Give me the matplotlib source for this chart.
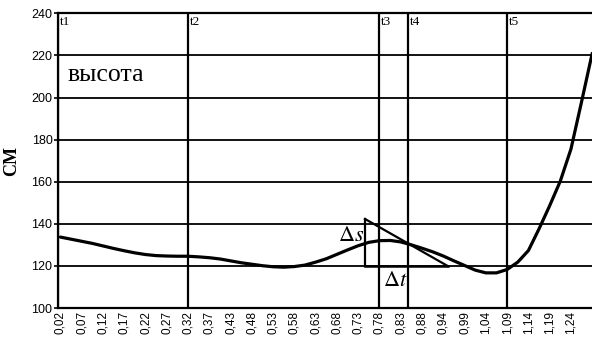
import numpy as np
import matplotlib
matplotlib.use("Agg")
import matplotlib.pyplot as plt

plt.rcParams['mathtext.fontset'] = 'stix'

# time labels on the category axis
tick_labels = ["0,02", "0,07", "0,12", "0,17", "0,22", "0,27", "0,32", "0,37",
               "0,43", "0,48", "0,53", "0,58", "0,63", "0,68", "0,73", "0,78",
               "0,83", "0,88", "0,94", "0,99", "1,04", "1,09", "1,14", "1,19", "1,24"]

# height (cm), read every half category
height = [133.7, 132.7, 131.7, 130.7, 129.5, 128.3, 127.2, 126.2, 125.4, 124.9,
          124.7, 124.6, 124.6, 124.3, 123.9, 123.3, 122.4, 121.5, 120.8, 120.1,
          119.6, 119.4, 119.7, 120.4, 121.8, 123.4, 125.5, 127.6, 129.6, 131.2,
          132.0, 132.1, 131.4, 130.0, 128.4, 126.7, 124.7, 122.4, 120.2, 118.0,
          116.7, 116.7, 118.3, 121.8, 127.3, 137.6, 148.6, 160.3, 175.5, 198.0,
          221.0]

# event markers
t_names = ["t1", "t2", "t3", "t4", "t5"]
t_pos = [-0.11, 6, 15, 16.36, 21]

# tangent triangle (delta s / delta t)
tri_x = [14.32, 14.32, 18.2]
tri_y = [120, 142.3, 120]

x = np.arange(len(height)) * 0.5

fig = plt.figure(figsize=(5.92, 3.37), dpi=100)
ax = fig.add_axes([0.098, 0.086, 0.902, 0.8745])

ax.set_xlim(-0.113, 24.99)
ax.set_ylim(100, 240)

for v in range(120, 240, 20):
    ax.axhline(v, color='black', lw=1.3, zorder=1)

for name, p in zip(t_names, t_pos):
    ax.axvline(p, color='black', lw=1.6, zorder=1)
    ax.text(p + 0.08, 238.8, name, fontsize=9.5, family='Liberation Serif',
            va='top', ha='left')

ax.plot(x, height, color='black', lw=2.3, zorder=3, solid_capstyle='round')

ax.plot([tri_x[0], tri_x[1]], [tri_y[0], tri_y[1]], color='black', lw=1.6, zorder=2)
ax.plot([tri_x[1], tri_x[2]], [tri_y[1], tri_y[2]], color='black', lw=1.6, zorder=2)
ax.plot([tri_x[0], tri_x[2]], [tri_y[0], tri_y[2]], color='black', lw=1.8, zorder=2)

ax.text(14.3, 134.5, r'$\Delta s$', fontsize=16, ha='right', va='center', zorder=4)
ax.text(15.15, 113.5, r'$\Delta t$', fontsize=16, ha='left', va='center', zorder=4)

ax.text(0.33, 208, 'высота', fontsize=18.5, family='Liberation Serif',
        ha='left', va='baseline')

ax.set_xticks(np.arange(len(tick_labels)))
ax.set_xticklabels(tick_labels, rotation=90, fontsize=8.5, family='Liberation Sans')
ax.tick_params(axis='x', length=0, pad=2)
ax.set_yticks(range(100, 241, 20))
ax.tick_params(axis='y', length=3, width=1.2, pad=1, labelsize=9,
               labelfontfamily='Liberation Sans')

ax.set_ylabel('СМ', fontsize=13, family='Liberation Serif', fontweight='bold',
              labelpad=8)

for s in ['left', 'bottom', 'top']:
    ax.spines[s].set_linewidth(1.6)
ax.spines['right'].set_visible(False)

fig.savefig('out.png', dpi=100)
